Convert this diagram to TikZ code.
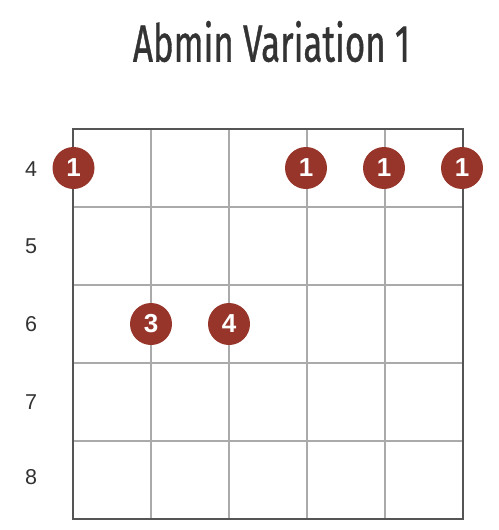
\documentclass[tikz,border=0pt]{standalone}
\usepackage{fontspec}
\setmainfont{Liberation Sans}
\newfontfamily\titlefont[FakeBold=1.0]{Fira Sans}
\definecolor{dotred}{HTML}{97352B}
\definecolor{framegray}{HTML}{555555}
\definecolor{gridgray}{HTML}{AAAAAA}
\definecolor{textgray}{HTML}{333333}
\tikzset{
  fingerdot/.style={circle, fill=dotred, minimum size=42pt, inner sep=0pt, text=white, font=\fontsize{26}{26}\selectfont\bfseries},
  fretlabel/.style={text=textgray, font=\fontsize{21.5}{21.5}\selectfont, inner sep=0pt},
  gridline/.style={draw=gridgray, line width=2pt},
  framebox/.style={draw=framegray, line width=2pt},
}
\begin{document}
\begin{tikzpicture}[x=1pt,y=-1pt]
\useasboundingbox (0,0) rectangle (498,530);
% title
\node[text=textgray, inner sep=0pt, anchor=base] (title) at (271.5,61.5)
  {\resizebox{277pt}{40.5pt}{\titlefont Abmin Variation 1}};
% grid
\foreach \x in {151,229,307,385} \draw[gridline] (\x,129) -- (\x,519);
\foreach \y in {207,285,363,441} \draw[gridline] (73,\y) -- (463,\y);
\draw[framebox] (73,129) rectangle (463,519);
% fret labels
\node[fretlabel] (f4) at (31,169.5) {4};
\node[fretlabel] (f5) at (31,246.5) {5};
\node[fretlabel] (f6) at (31,324.5) {6};
\node[fretlabel] (f7) at (31,402.5) {7};
\node[fretlabel] (f8) at (31,477) {8};
% dots
\node[fingerdot] (d1) at (73.5,168) {1};
\node[fingerdot] (d2) at (306,168) {1};
\node[fingerdot] (d3) at (384,168) {1};
\node[fingerdot] (d4) at (462,168) {1};
\node[fingerdot] (d5) at (151,324) {3};
\node[fingerdot] (d6) at (229,324) {4};
\end{tikzpicture}
\end{document}
